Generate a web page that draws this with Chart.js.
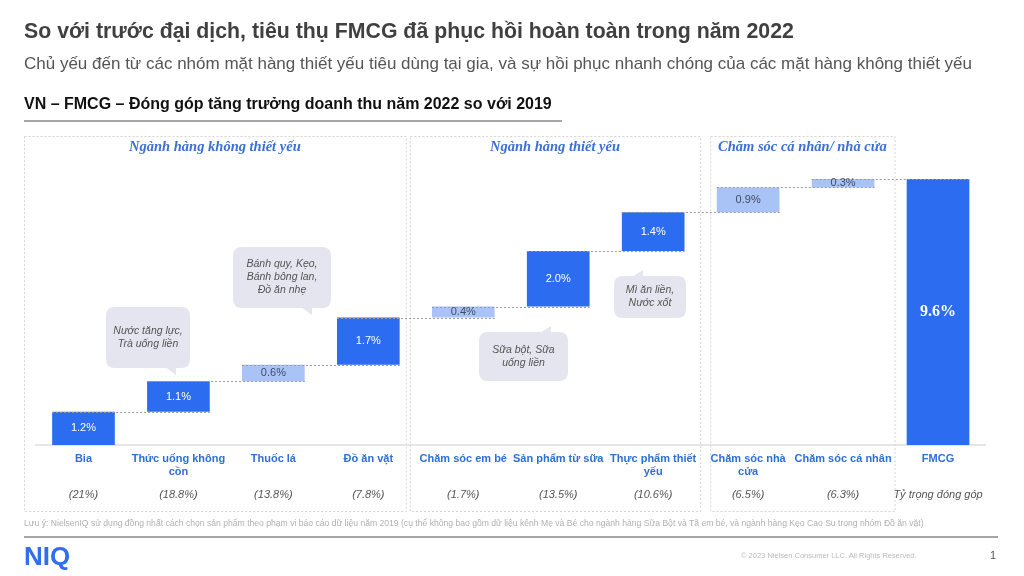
<!DOCTYPE html>
<html>
<head>
<meta charset="utf-8">
<script src="https://cdn.jsdelivr.net/npm/chart.js@4.4.1/dist/chart.umd.min.js"></script>
<style>
  html, body { margin: 0; padding: 0; background: #fff; }
  body { width: 1024px; height: 576px; position: relative; overflow: hidden; font-family: "Liberation Sans", Arial, sans-serif; }
  #wrap { position: absolute; left: 0; top: 0; width: 1024px; height: 576px; }
  .t { position: absolute; white-space: nowrap; line-height: 1; }
  .rule { position: absolute; height: 2px; background: #a6a6a6; }
</style>
</head>
<body>
<div id="wrap"><canvas id="myChart" width="1024" height="576"></canvas></div>

<div class="t" style="left:24px;top:21px;font-size:21.3px;font-weight:bold;color:#404040;">So với trước đại dịch, tiêu thụ FMCG đã phục hồi hoàn toàn trong năm 2022</div>
<div class="t" style="left:24px;top:55px;font-size:17px;color:#555;">Chủ yếu đến từ các nhóm mặt hàng thiết yếu tiêu dùng tại gia, và sự hồi phục nhanh chóng của các mặt hàng không thiết yếu</div>
<div class="t" style="left:24px;top:96px;font-size:16px;font-weight:bold;color:#111;">VN – FMCG – Đóng góp tăng trưởng doanh thu năm 2022 so với 2019</div>
<div class="rule" style="left:24px;top:120px;width:538px;"></div>

<div class="t" style="left:24px;top:519px;font-size:8.6px;color:#b0b0b0;">Lưu ý: NielsenIQ sử dụng đồng nhất cách chọn sản phẩm theo phạm vi báo cáo dữ liệu năm 2019 (cụ thể không bao gồm dữ liệu kênh Mẹ và Bé cho ngành hàng Sữa Bột và Tã em bé, và ngành hàng Kẹo Cao Su trong nhóm Đồ ăn vặt)</div>
<div class="rule" style="left:24px;top:536px;width:974px;"></div>
<div class="t" style="left:24px;top:543px;font-size:26px;font-weight:bold;color:#2d6ff0;">NIQ</div>
<div class="t" style="left:741px;top:552px;font-size:7.5px;color:#bbb;">© 2023 Nielsen Consumer LLC. All Rights Reserved.</div>
<div class="t" style="left:990px;top:550px;font-size:11px;color:#555;">1</div>

<script>
// categories (x axis) and contributions (percentage points of growth)
const categories = [
  ["Bia"],
  ["Thức uống không", "cồn"],
  ["Thuốc lá"],
  ["Đồ ăn vặt"],
  ["Chăm sóc em bé"],
  ["Sản phẩm từ sữa"],
  ["Thực phẩm thiết", "yếu"],
  ["Chăm sóc nhà", "cửa"],
  ["Chăm sóc cá nhân"],
  ["FMCG"]
];
const contributions = [1.2, 1.1, 0.6, 1.7, 0.4, 2.0, 1.4, 0.9, 0.3];
const totalGrowth = 9.6;
const shareLabels = ["(21%)", "(18.8%)", "(13.8%)", "(7.8%)", "(1.7%)", "(13.5%)", "(10.6%)", "(6.5%)", "(6.3%)", "Tỷ trọng đóng góp"];

const panelTitles = ["Ngành hàng không thiết yếu", "Ngành hàng thiết yếu", "Chăm sóc cá nhân/ nhà cửa"];

const calloutTexts = [
  ["Nước tăng lực,", "Trà uống liền"],
  ["Bánh quy, Kẹo,", "Bánh bông lan,", "Đồ ăn nhẹ"],
  ["Sữa bột, Sữa", "uống liền"],
  ["Mì ăn liền,", "Nước xốt"]
];

// styling
const DARK = "#2c6cf0";
const LIGHT = "#a9c3f6";
const lightBar = [false, false, true, false, true, false, false, true, true, false];

// panels: category range + extra room left/right of the outer bar centres
const panels = [
  { first: 0, last: 3, padL: 59.5, padR: 37.5 },
  { first: 4, last: 6, padL: 53.5, padR: 47 },
  { first: 7, last: 8, padL: 38, padR: 51.5 }
];
const PANEL_TOP = 136, PANEL_BOTTOM = 511;

// callout boxes (page pixels)
const callouts = [
  { x: 106, y: 307, w: 84, h: 61, tail: "down", tipX: 176, tipY: 375 },
  { x: 233, y: 247, w: 98, h: 61, tail: "down", tipX: 312, tipY: 315 },
  { x: 479, y: 332, w: 89, h: 49, tail: "up", tipX: 551, tipY: 326 },
  { x: 614, y: 276, w: 72, h: 42, tail: "up", tipX: 643, tipY: 270 }
];

// floating ranges for the waterfall
const ranges = [];
let running = 0;
contributions.forEach(v => {
  ranges.push([Number(running.toFixed(2)), Number((running + v).toFixed(2))]);
  running += v;
});
ranges.push([0, totalGrowth]);
const valueLabels = contributions.map(v => v.toFixed(1) + "%").concat([totalGrowth.toFixed(1) + "%"]);

function roundRect(ctx, x, y, w, h, r) {
  ctx.moveTo(x + r, y);
  ctx.lineTo(x + w - r, y);
  ctx.quadraticCurveTo(x + w, y, x + w, y + r);
  ctx.lineTo(x + w, y + h - r);
  ctx.quadraticCurveTo(x + w, y + h, x + w - r, y + h);
  ctx.lineTo(x + r, y + h);
  ctx.quadraticCurveTo(x, y + h, x, y + h - r);
  ctx.lineTo(x, y + r);
  ctx.quadraticCurveTo(x, y, x + r, y);
}

const decorPlugin = {
  id: "decor",
  beforeDatasetsDraw(chart) {
    const ctx = chart.ctx;
    const xs = chart.scales.x;
    ctx.save();
    ctx.strokeStyle = "#d4d4d4";
    ctx.lineWidth = 1;
    ctx.setLineDash([2, 2]);
    panels.forEach((p, i) => {
      const left = xs.getPixelForValue(p.first) - p.padL;
      const right = xs.getPixelForValue(p.last) + p.padR;
      ctx.strokeRect(left + 0.5, PANEL_TOP + 0.5, right - left, PANEL_BOTTOM - PANEL_TOP);
      ctx.fillStyle = "#3b6fd6";
      ctx.font = "italic bold 14.5px 'Liberation Serif', serif";
      ctx.textAlign = "center";
      ctx.textBaseline = "middle";
      ctx.fillText(panelTitles[i], (left + right) / 2, 147);
    });
    ctx.restore();
  },
  afterDatasetsDraw(chart) {
    const ctx = chart.ctx;
    const ys = chart.scales.y;
    const meta = chart.getDatasetMeta(0);
    ctx.save();

    // connectors
    ctx.strokeStyle = "#9a9a9a";
    ctx.lineWidth = 1;
    ctx.setLineDash([2, 2]);
    for (let i = 0; i < meta.data.length - 1; i++) {
      const a = meta.data[i], b = meta.data[i + 1];
      const y = Math.round(ys.getPixelForValue(ranges[i][1])) + 0.5;
      ctx.beginPath();
      ctx.moveTo(a.x - a.width / 2, y);
      ctx.lineTo(b.x + b.width / 2, y);
      ctx.stroke();
    }
    ctx.setLineDash([]);

    // value labels
    ctx.textAlign = "center";
    ctx.textBaseline = "middle";
    meta.data.forEach((bar, i) => {
      const cy = (bar.y + bar.base) / 2;
      if (i === meta.data.length - 1) {
        ctx.font = "bold 16px 'Liberation Serif', serif";
        ctx.fillStyle = "#fff";
      } else {
        ctx.font = "11px 'Liberation Sans', Arial, sans-serif";
        ctx.fillStyle = lightBar[i] ? "#3f4d63" : "#fff";
      }
      ctx.fillText(valueLabels[i], bar.x, cy);
    });

    // callouts
    callouts.forEach((c, i) => {
      ctx.beginPath();
      roundRect(ctx, c.x, c.y, c.w, c.h, 9);
      ctx.fillStyle = "#e4e5ee";
      ctx.fill();
      ctx.beginPath();
      const edge = c.tail === "down" ? c.y + c.h - 1 : c.y + 1;
      ctx.moveTo(c.tipX - 11, edge);
      ctx.lineTo(c.tipX, edge);
      ctx.lineTo(c.tipX, c.tipY);
      ctx.closePath();
      ctx.fill();

      const lines = calloutTexts[i];
      const lh = 13;
      const startY = c.y + c.h / 2 - (lines.length - 1) * lh / 2;
      ctx.fillStyle = "#555";
      ctx.font = "italic 10.5px 'Liberation Sans', Arial, sans-serif";
      lines.forEach((t, k) => ctx.fillText(t, c.x + c.w / 2, startY + k * lh));
    });
    ctx.restore();
  }
};

new Chart(document.getElementById("myChart"), {
  type: "bar",
  data: {
    labels: categories,
    datasets: [{
      data: ranges,
      backgroundColor: lightBar.map(l => (l ? LIGHT : DARK)),
      borderWidth: 0,
      barPercentage: 0.66,
      categoryPercentage: 1
    }]
  },
  options: {
    responsive: false,
    animation: false,
    layout: { padding: { left: 36, right: 38.5, top: 168, bottom: 73 } },
    plugins: { legend: { display: false }, tooltip: { enabled: false } },
    scales: {
      x: {
        offset: true,
        grid: { display: false, drawTicks: false },
        border: { display: true, color: "#e6e6e6", width: 2 },
        ticks: {
          autoSkip: false, maxRotation: 0, minRotation: 0, padding: 7,
          color: "#2f6fd8",
          font: { family: "'Liberation Sans', Arial, sans-serif", size: 11, weight: "bold" }
        },
        afterFit(scale) { scale.height = 36; }
      },
      x2: {
        type: "category",
        position: "bottom",
        labels: shareLabels,
        offset: true,
        grid: { display: false, drawTicks: false },
        border: { display: false },
        ticks: {
          autoSkip: false, maxRotation: 0, minRotation: 0, padding: 7,
          color: "#555",
          font: { family: "'Liberation Sans', Arial, sans-serif", size: 11, style: "italic" }
        },
        afterFit(scale) { scale.height = 22; }
      },
      y: { display: false, min: 0, max: 10 }
    }
  },
  plugins: [decorPlugin]
});
</script>
</body>
</html>
